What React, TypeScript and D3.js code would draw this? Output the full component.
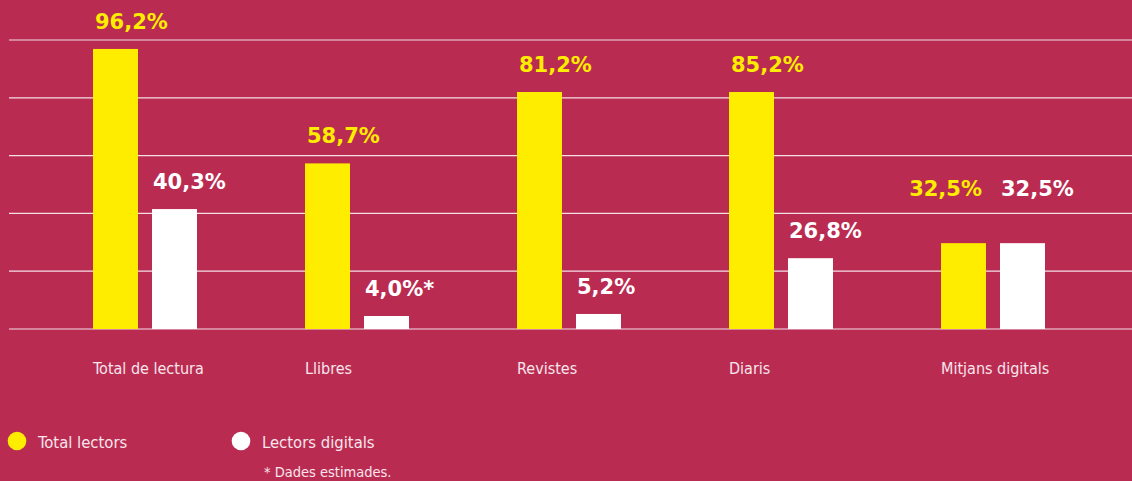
import React from "react";
import * as d3 from "d3";

const categories = ["Total de lectura", "Llibres", "Revistes", "Diaris", "Mitjans digitals"];
// bar heights (percent) as drawn in the picture
const totalLectors = [96.9, 57.3, 82.0, 82.0, 29.7];
const lectorsDigitals = [41.5, 4.5, 5.2, 24.5, 29.7];
// value labels as printed
const totalLabels = ["96,2%", "58,7%", "81,2%", "85,2%", "32,5%"];
const digitalLabels = ["40,3%", "4,0%*", "5,2%", "26,8%", "32,5%"];
const gridTicks = [0, 20, 40, 60, 80, 100];
const legendItems = ["Total lectors", "Lectors digitals"];
const footnote = "* Dades estimades.";

const W = 1132;
const H = 481;
const BG = "#BA2B52";
const YELLOW = "#FFED00";
const WHITE = "#FFFFFF";
const LABEL_FONT = "'DejaVu Sans', sans-serif";
const COND_FONT = "'DejaVu Sans Condensed', 'Liberation Sans Narrow', 'Roboto', sans-serif";

export default function App() {
  const y = d3.scaleLinear().domain([0, 100]).range([329, 40]);
  const x = d3.scalePoint<string>().domain(categories).range([93, 941]);
  const barW = 45;
  const gap = 14;

  return (
    <svg
      width={W}
      height={H}
      style={{ position: "absolute", left: 0, top: 0, display: "block" }}
    >
      <rect x={0} y={0} width={W} height={H} fill={BG} />
      {gridTicks.map((t) => (
        <line
          key={t}
          x1={9}
          x2={W}
          y1={y(t)}
          y2={y(t)}
          stroke="#ffffff"
          strokeOpacity={0.85}
          strokeWidth={1.2}
        />
      ))}
      {categories.map((c, i) => {
        const x0 = x(c)!;
        const x1 = x0 + barW + gap;
        const yT = y(totalLectors[i]);
        const yD = y(lectorsDigitals[i]);
        const same = totalLectors[i] === lectorsDigitals[i];
        const labelYT = same ? yT - 47 : yT - 20;
        const labelYD = same ? yD - 47 : yD - 20;
        return (
          <g key={c}>
            <rect x={x0} y={yT} width={barW} height={y(0) - yT} fill={YELLOW} />
            <rect x={x1} y={yD} width={barW} height={y(0) - yD} fill={WHITE} />
            <text
              x={same ? x0 + barW - 4 : x0 + 2}
              y={labelYT}
              textAnchor={same ? "end" : "start"}
              fill={YELLOW}
              fontFamily={LABEL_FONT}
              fontWeight="bold"
              fontSize={21}
            >
              {totalLabels[i]}
            </text>
            <text
              x={x1 + 1}
              y={labelYD}
              fill={WHITE}
              fontFamily={LABEL_FONT}
              fontWeight="bold"
              fontSize={21}
            >
              {digitalLabels[i]}
            </text>
            <text
              x={x0}
              y={374}
              fill="#f8e6ec"
              fontFamily={COND_FONT}
              fontSize={16}
            >
              {c}
            </text>
          </g>
        );
      })}
      {legendItems.map((l, i) => {
        const cx = i === 0 ? 17 : 241;
        return (
          <g key={l}>
            <circle cx={cx} cy={441} r={9.3} fill={i === 0 ? YELLOW : WHITE} />
            <text
              x={cx + 21}
              y={448}
              fill="#f8e6ec"
              fontFamily={COND_FONT}
              fontSize={16.5}
            >
              {l}
            </text>
          </g>
        );
      })}
      <text x={264} y={477} fill="#f8e6ec" fontFamily={COND_FONT} fontSize={14.5}>
        {footnote}
      </text>
    </svg>
  );
}
